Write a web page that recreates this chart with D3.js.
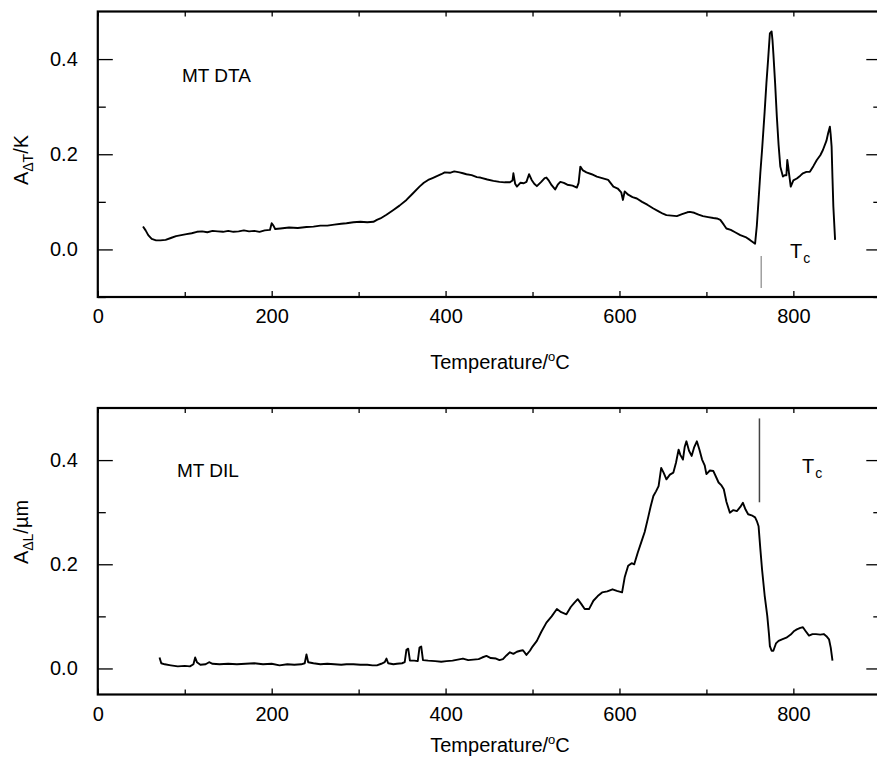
<html>
<head>
  <meta charset="utf-8" />
  <style>
    body { margin: 0; background: #fff; }
    text { font-family: "Liberation Sans", Arial, Helvetica, sans-serif; fill: #000; }
  </style>
</head>
<body>
<svg id="chart" width="877" height="757"></svg>
<script src="https://cdn.jsdelivr.net/npm/d3@7"></script>
<script>

// DTA curve (top): temperature in C, signal in K
var dtaT = [52,55,58,62,67,72,78,84,90,96,102,108,114,120,126,132,138,144,150,156,162,168,174,180,186,192,198,200,202,204,210,220,230,240,248,256,264,272,280,286,294,302,310,317,321,325,332,340,347,355,362,370,375,380,385,390,395,399,405,410,416,420,424,430,436,440,448,455,462,468,474,477,478,480,482,486,490,493,496,499,502,505,510,514,516,519,522,526,529,532,536,540,546,551,553,555,558,562,568,574,580,587,593,598,602,604,606,610,615,620,626,632,639,645,650,654,660,666,672,678,681,686,691,696,702,708,712,716,720,723,728,733,739,745,750,756,758,760,762,764,767,769,771,773,775,776,777,779,781,783,785,788,790,792,793,794,795,797,800,804,808,811,815,819,823,827,831,834,838,840,842,843,844,845,846,848]
var dtaV = [.048,.040,.030,.022,.019,.019,.020,.024,.028,.030,.032,.034,.037,.038,.036,.039,.038,.037,.039,.037,.038,.040,.038,.039,.037,.040,.041,.055,.050,.043,.044,.046,.045,.047,.048,.050,.050,.052,.054,.055,.057,.058,.057,.058,.062,.065,.073,.083,.092,.104,.117,.132,.140,.146,.150,.154,.158,.162,.161,.164,.162,.160,.158,.156,.152,.151,.147,.144,.142,.141,.141,.145,.160,.138,.132,.140,.139,.142,.158,.146,.138,.133,.142,.150,.151,.144,.135,.126,.136,.142,.140,.136,.134,.130,.140,.174,.166,.162,.158,.153,.150,.146,.132,.128,.120,.104,.122,.115,.110,.107,.100,.094,.086,.080,.075,.072,.071,.070,.074,.078,.079,.077,.073,.070,.068,.066,.065,.062,.052,.044,.041,.036,.030,.026,.020,.012,.050,.104,.160,.209,.290,.349,.400,.454,.458,.440,.412,.350,.279,.220,.174,.153,.156,.156,.188,.175,.160,.132,.145,.149,.155,.160,.163,.163,.175,.188,.198,.209,.228,.244,.258,.240,.216,.150,.090,.020]

// DIL curve (bottom): temperature in C, signal in um
var dilT = [71,73,77,84,92,100,106,110,112,114,118,124,128,132,140,150,160,170,180,190,200,209,218,226,234,238,240,242,248,256,264,272,280,286,294,302,310,316,321,326,330,332,334,340,344,350,353,355,357,359,364,368,370,372,374,380,388,395,401,408,414,420,426,432,438,442,447,452,458,462,466,470,474,478,482,486,489,493,497,500,505,510,516,522,528,533,539,544,548,552,556,560,565,570,575,580,586,592,597,603,606,610,614,617,621,625,629,633,636,639,642,645,648,651,654,658,662,665,668,670,673,675,677,680,683,686,689,692,695,698,700,704,708,711,714,717,720,723,727,731,735,739,742,745,748,752,756,758,760,762,764,767,770,772,773,775,777,780,783,787,792,797,801,804,808,811,814,818,822,826,831,835,838,841,843,845]
var dilV = [.021,.010,.008,.006,.004,.005,.004,.008,.021,.012,.007,.008,.012,.009,.008,.009,.008,.009,.010,.008,.009,.006,.008,.007,.008,.010,.027,.012,.010,.008,.009,.008,.007,.008,.008,.007,.007,.006,.006,.009,.012,.019,.010,.008,.009,.010,.012,.036,.038,.015,.015,.014,.040,.042,.016,.015,.014,.013,.014,.015,.017,.019,.016,.017,.018,.021,.024,.020,.019,.016,.018,.025,.031,.028,.032,.034,.035,.026,.034,.042,.053,.070,.088,.100,.114,.108,.104,.118,.126,.133,.124,.114,.114,.130,.139,.146,.148,.152,.149,.146,.175,.197,.202,.200,.222,.242,.262,.290,.312,.331,.340,.350,.385,.375,.363,.372,.376,.395,.420,.410,.401,.425,.436,.418,.408,.425,.436,.420,.401,.390,.373,.380,.379,.368,.357,.352,.344,.320,.299,.304,.302,.310,.318,.305,.296,.294,.290,.283,.273,.230,.190,.140,.101,.065,.043,.034,.034,.048,.053,.056,.059,.065,.072,.075,.078,.079,.072,.063,.066,.066,.065,.066,.062,.056,.040,.015]

// Curie temperature marker lines: [temperature, from, to]
var tcTop = [763, -0.014, -0.081]
var tcBottom = [761, 0.48, 0.319]

var xMajor = [0, 200, 400, 600, 800]
var xMinor = [100, 300, 500, 700, 900]
var yMajorTop = [0.0, 0.2, 0.4]
var yMinorTop = [-0.1, 0.1, 0.3]
var yMajorBottom = [0.0, 0.2, 0.4]
var yMinorBottom = [0.1, 0.3]

var svg = d3.select('#chart')

var x = d3.scaleLinear().domain([0, 900]).range([97.8, 880.3])

function drawPanel(cfg){
  var y = d3.scaleLinear().domain(cfg.yDomain).range(cfg.yRange)
  var g = svg.append('g')
  var top = cfg.yRange[1], bottom = cfg.yRange[0]

  // ticks, all pointing inward
  var axBottom = g.append('g').attr('transform', `translate(0,${bottom})`)
  axBottom.call(d3.axisBottom(x).tickValues(xMajor).tickSize(-6).tickPadding(12).tickFormat(d3.format('d')))
  axBottom.append('g').call(d3.axisBottom(x).tickValues(xMinor).tickSize(-5).tickFormat(''))
  g.append('g').attr('transform', `translate(0,${top})`)
    .call(d3.axisTop(x).tickValues(xMajor.concat(xMinor)).tickSize(-5).tickFormat(''))

  var axLeft = g.append('g').attr('transform', `translate(${x.range()[0]},0)`)
  axLeft.call(d3.axisLeft(y).tickValues(cfg.yMajor).tickSize(-15).tickPadding(20).tickFormat(d3.format('.1f')))
  axLeft.append('g').call(d3.axisLeft(y).tickValues(cfg.yMinor).tickSize(-8).tickFormat(''))
  var axRight = g.append('g').attr('transform', `translate(${x.range()[1]},0)`)
  axRight.call(d3.axisRight(y).tickValues(cfg.yMajor).tickSize(-14).tickFormat(''))
  axRight.append('g').call(d3.axisRight(y).tickValues(cfg.yMinor).tickSize(-7).tickFormat(''))

  g.selectAll('.domain').remove()
  g.selectAll('.tick line').attr('stroke', '#000').attr('stroke-width', 1.3)
  g.selectAll('.tick text').attr('font-size', 20).attr('fill', '#000')
    .style('font-family', '"Liberation Sans", Arial, sans-serif')

  // frame
  g.append('rect')
    .attr('x', x.range()[0]).attr('y', top)
    .attr('width', x.range()[1] - x.range()[0]).attr('height', bottom - top)
    .attr('fill', 'none').attr('stroke', '#000').attr('stroke-width', 2.2)

  // curve
  var pts = cfg.t.map((t, i) => [t, cfg.v[i]])
  g.append('path')
    .datum(pts)
    .attr('d', d3.line().x(d => x(d[0])).y(d => y(d[1])))
    .attr('fill', 'none').attr('stroke', '#000').attr('stroke-width', 1.9)
    .attr('stroke-linejoin', 'round')

  // Tc marker
  g.append('line')
    .attr('x1', x(cfg.tc[0])).attr('x2', x(cfg.tc[0]))
    .attr('y1', y(cfg.tc[1])).attr('y2', y(cfg.tc[2]))
    .attr('stroke', cfg.tcColor).attr('stroke-width', cfg.tcWidth)

  var tcLabel = g.append('text').attr('x', cfg.tcLabel[0]).attr('y', cfg.tcLabel[1]).attr('font-size', 20)
  tcLabel.append('tspan').text('T')
  tcLabel.append('tspan').attr('font-size', 14).attr('dx', 1).attr('dy', 5).text('c')

  g.append('text').attr('x', cfg.name[0]).attr('y', cfg.name[1]).attr('font-size', 19).text(cfg.name[2])

  // y title
  var yt = g.append('text')
    .attr('transform', `translate(${cfg.yTitlePos[0]},${cfg.yTitlePos[1]}) rotate(-90)`)
    .attr('text-anchor', 'middle').attr('font-size', 20)
  yt.append('tspan').text('A')
  yt.append('tspan').attr('font-size', 14).attr('dy', 5).text(cfg.yTitleSub)
  yt.append('tspan').attr('dy', -5).text(cfg.yTitleUnit)

  // x title
  var xt = g.append('text').attr('x', 500).attr('y', cfg.xTitleY)
    .attr('text-anchor', 'middle').attr('font-size', 20)
  xt.append('tspan').text('Temperature/')
  xt.append('tspan').attr('font-size', 13).attr('dy', -8).text('o')
  xt.append('tspan').attr('dy', 8).text('C')
}

drawPanel({
  yDomain: [-0.1, 0.5], yRange: [297, 11.5],
  yMajor: yMajorTop, yMinor: yMinorTop,
  t: dtaT, v: dtaV,
  tc: tcTop, tcColor: '#888', tcWidth: 1.2, tcLabel: [790, 258],
  name: [182, 82, 'MT DTA'],
  yTitlePos: [28, 160], yTitleSub: '\u0394T', yTitleUnit: '/K',
  xTitleY: 369
})

drawPanel({
  yDomain: [-0.05, 0.5], yRange: [694.5, 408],
  yMajor: yMajorBottom, yMinor: yMinorBottom,
  t: dilT, v: dilV,
  tc: tcBottom, tcColor: '#444', tcWidth: 1.5, tcLabel: [802, 473],
  name: [177, 477, 'MT DIL'],
  yTitlePos: [28, 532], yTitleSub: '\u0394L', yTitleUnit: '/\u00b5m',
  xTitleY: 752
})

</script>
</body>
</html>
